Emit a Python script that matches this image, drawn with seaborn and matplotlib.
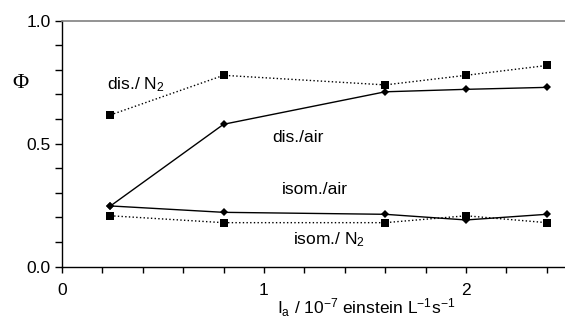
import matplotlib
matplotlib.use("Agg")
import matplotlib.pyplot as plt
import seaborn as sns
import pandas as pd
from matplotlib.ticker import MultipleLocator

sns.set_theme(style="white")
plt.rcParams['font.family'] = ['Liberation Sans', 'DejaVu Sans']
plt.rcParams['mathtext.fontset'] = 'custom'
plt.rcParams['mathtext.rm'] = 'Liberation Sans'
plt.rcParams['mathtext.it'] = 'Liberation Sans'

x_vals = [0.24, 0.8, 1.6, 2.0, 2.4]
dis_n2 = [0.617, 0.778, 0.739, 0.778, 0.818]
dis_air = [0.247, 0.579, 0.711, 0.721, 0.729]
isom_air = [0.247, 0.221, 0.213, 0.19, 0.213]
isom_n2 = [0.207, 0.179, 0.179, 0.207, 0.179]

series = {
    "dis_n2": (dis_n2, "s", ":"),
    "dis_air": (dis_air, "D", "-"),
    "isom_air": (isom_air, "D", "-"),
    "isom_n2": (isom_n2, "s", ":"),
}

FS = 12.5

fig = plt.figure(figsize=(5.65, 3.2), dpi=100)
ax = fig.add_axes([62/565, 1-266.7/320, (565-62)/565, (266.7-20.7)/320])

for name, (vals, mk, ls) in series.items():
    df = pd.DataFrame({"x": x_vals, "y": vals})
    ms = 6 if mk == "s" else 4.5
    sns.lineplot(data=df, x="x", y="y", ax=ax, color="black", linestyle=ls,
                 linewidth=1.0, marker=mk, markersize=ms, markeredgewidth=0,
                 markerfacecolor="black")

ax.set_xlim(0, 503/202)
ax.set_ylim(0, 1.0)
ax.xaxis.set_major_locator(MultipleLocator(1))
ax.xaxis.set_minor_locator(MultipleLocator(0.2))
ax.yaxis.set_major_locator(MultipleLocator(0.5))
ax.yaxis.set_minor_locator(MultipleLocator(0.1))
ax.yaxis.set_major_formatter(matplotlib.ticker.FormatStrFormatter("%.1f"))

ax.tick_params(axis="x", which="both", direction="out", length=4, width=1,
               color="black", bottom=True, labelsize=FS, pad=8, labelcolor="black")
ax.tick_params(axis="y", which="both", direction="out", length=5, width=1,
               color="black", left=True, labelsize=FS, pad=3, labelcolor="black")

for s in ["left", "bottom"]:
    ax.spines[s].set_color("black")
    ax.spines[s].set_linewidth(1.0)
ax.spines["top"].set_color("#808080")
ax.spines["top"].set_linewidth(1.2)
ax.spines["right"].set_visible(False)

ax.set_xlabel("")
ax.set_ylabel("")

fig.text(20/565, 1-84/320, "Φ", fontsize=16, family="Liberation Serif",
         ha="center", va="center", color="black")
fig.text(107/565, 1-85/320, "dis./ N$_2$", fontsize=FS, ha="left", va="center", color="black")
fig.text(272/565, 1-137/320, "dis./air", fontsize=FS, ha="left", va="center", color="black")
fig.text(282/565, 1-189/320, "isom./air", fontsize=FS, ha="left", va="center", color="black")
fig.text(293/565, 1-240/320, "isom./ N$_2$", fontsize=FS, ha="left", va="center", color="black")
fig.text(277/565, 1-308/320, "I$_a$ / 10$^{-7}$ einstein L$^{-1}$s$^{-1}$", fontsize=FS,
         ha="left", va="center", color="black")

fig.savefig("out.png", dpi=100)
